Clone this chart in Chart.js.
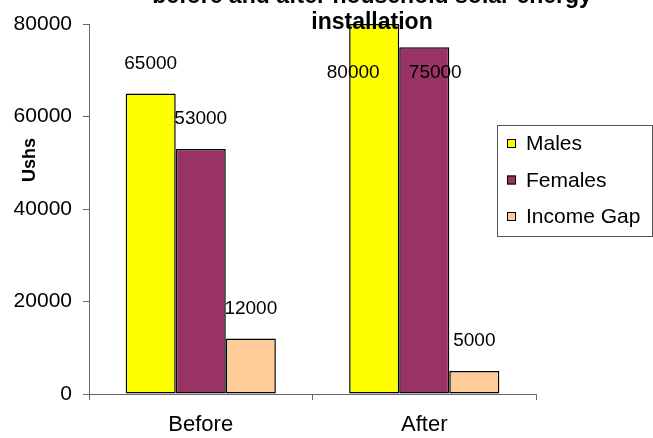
<!DOCTYPE html>
<html>
<head>
<meta charset="utf-8">
<script src="https://cdn.jsdelivr.net/npm/chart.js@4/dist/chart.umd.min.js"></script>
<style>
  html, body { margin: 0; padding: 0; background: #fff; }
  canvas { display: block; }
</style>
</head>
<body>
<canvas id="c" width="653" height="438"></canvas>
<script>
// Income (Ushs) before and after household solar energy installation
const categories = ['Before', 'After'];
const seriesNames = ['Males', 'Females', 'Income Gap'];
const males = [65000, 80000];
const females = [53000, 75000];
const incomeGap = [12000, 5000];
const yTicks = [0, 20000, 40000, 60000, 80000];
const titleLines = ['before and after household solar energy', 'installation'];
const yTitle = 'Ushs';

const FONT = '"Liberation Sans", Arial, sans-serif';
const colors = ['#FFFF00', '#993366', '#FFCC99'];

// Per-label nudges for the values that would otherwise run off the top
const labelNudge = { '0:1': [-21, 49], '1:1': [11, 26] };

const overlay = {
  id: 'overlay',
  afterDatasetsDraw(chart) {
    const ctx = chart.ctx;
    ctx.save();
    // value labels
    ctx.font = '19px ' + FONT;
    ctx.fillStyle = '#000';
    ctx.textAlign = 'center';
    ctx.textBaseline = 'middle';
    chart.data.datasets.forEach((ds, di) => {
      chart.getDatasetMeta(di).data.forEach((bar, i) => {
        const n = labelNudge[di + ':' + i];
        const x = bar.x + (n ? n[0] : 0);
        const y = n ? bar.y + n[1] : bar.y - 30;
        ctx.fillText(String(ds.data[i]), x, y);
      });
    });

    // title
    ctx.font = 'bold 23px ' + FONT;
    ctx.textBaseline = 'alphabetic';
    const cx = 372;
    titleLines.forEach((t, k) => ctx.fillText(t, cx, 3 + k * 26));

    // y axis title
    ctx.save();
    ctx.translate(30, 160);
    ctx.rotate(-Math.PI / 2);
    ctx.font = 'bold 18px ' + FONT;
    ctx.textBaseline = 'middle';
    ctx.fillText(yTitle, 0, 0);
    ctx.restore();

    // legend
    const lx = 497, ly = 125, lw = 155, lh = 111;
    ctx.strokeStyle = '#555';
    ctx.lineWidth = 1;
    ctx.strokeRect(lx + 0.5, ly + 0.5, lw, lh);
    ctx.font = '21px ' + FONT;
    ctx.textAlign = 'left';
    ctx.textBaseline = 'alphabetic';
    chart.data.datasets.forEach((ds, di) => {
      const base = 150 + di * 36.5;
      ctx.fillStyle = ds.backgroundColor;
      ctx.fillRect(507, base - 11, 9, 9);
      ctx.strokeStyle = '#000';
      ctx.strokeRect(507.5, base - 10.5, 8, 8);
      ctx.fillStyle = '#000';
      ctx.fillText(ds.label, 526, base);
    });
    ctx.restore();
  }
};

const seriesData = [males, females, incomeGap];

new Chart(document.getElementById('c'), {
  type: 'bar',
  data: {
    labels: categories,
    datasets: seriesNames.map((name, i) => ({
      label: name,
      data: seriesData[i],
      backgroundColor: colors[i],
      borderColor: '#000',
      borderWidth: 1.5,
      borderSkipped: false,
      categoryPercentage: 0.672,
      barPercentage: 1.0
    }))
  },
  options: {
    responsive: false,
    devicePixelRatio: 1,
    animation: false,
    layout: { padding: { top: 24, right: 117, left: 0, bottom: 0 } },
    plugins: { legend: { display: false }, title: { display: false }, tooltip: { enabled: false } },
    scales: {
      x: {
        afterFit(s) { s.height = 44; },
        grid: { display: true, drawOnChartArea: false, drawTicks: true, tickLength: 6, color: '#666', offset: true },
        border: { display: true, color: '#666', width: 1 },
        ticks: { color: '#000', font: { family: FONT, size: 22 }, padding: 12 }
      },
      y: {
        min: 0,
        max: 80000,
        afterFit(s) { s.width = 89; },
        afterBuildTicks(s) { s.ticks = yTicks.map(v => ({ value: v })); },
        grid: { display: true, drawOnChartArea: false, drawTicks: true, tickLength: 6, color: '#666' },
        border: { display: true, color: '#666', width: 1 },
        ticks: { color: '#000', font: { family: FONT, size: 21 }, padding: 11, callback: v => String(v) }
      }
    }
  },
  plugins: [overlay]
});
</script>
</body>
</html>
